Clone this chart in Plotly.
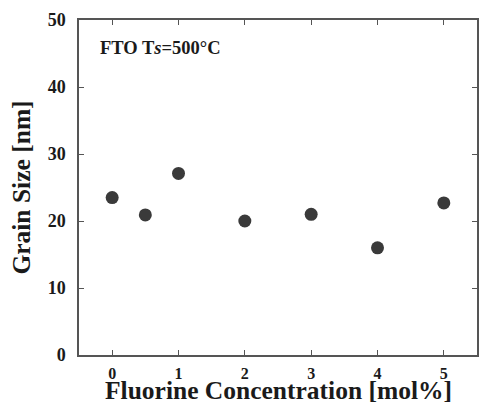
import plotly.graph_objects as go

fluorine_mol = [0, 0.5, 1, 2, 3, 4, 5]
grain_size_nm = [23.5, 20.9, 27.1, 20.0, 21.0, 16.0, 22.7]
x_ticks = [0, 1, 2, 3, 4, 5]
y_ticks = [0, 10, 20, 30, 40, 50]

FONT = "Liberation Serif"
AX = "#555555"

fig = go.Figure()
fig.add_trace(go.Scatter(
    x=fluorine_mol, y=grain_size_nm, mode="markers",
    marker=dict(size=13, color="#3a3a3a", line=dict(width=0)),
    showlegend=False,
))

fig.update_layout(
    width=479, height=406,
    margin=dict(l=79, r=0, t=20, b=51),
    paper_bgcolor="white", plot_bgcolor="white",
    font=dict(family=FONT, color="#1a1a1a"),
    xaxis=dict(
        range=[-0.5, 5.5], tickvals=x_ticks, ticktext=[str(v) for v in x_ticks],
        showline=True, linecolor=AX, linewidth=1.5, mirror="ticks",
        ticks="inside", ticklen=5, tickcolor=AX, tickwidth=1,
        showgrid=False, zeroline=False, ticklabelstandoff=3,
        tickfont=dict(family=FONT, size=16, color="#1a1a1a", weight="bold"),
    ),
    yaxis=dict(
        range=[0, 50], tickvals=y_ticks, ticktext=[str(v) for v in y_ticks],
        showline=True, linecolor=AX, linewidth=1.5, mirror="ticks",
        ticks="inside", ticklen=5, tickcolor=AX, tickwidth=1,
        showgrid=False, zeroline=False, ticklabelstandoff=8,
        tickfont=dict(family=FONT, size=18, color="#1a1a1a", weight="bold"),
        title=dict(text="<b>Grain Size [nm]</b>",
                   font=dict(family=FONT, size=25.5, color="#1a1a1a"), standoff=10),
    ),
    annotations=[
        dict(
            x=-0.21, y=45.8, xref="x", yref="y", xanchor="left", yanchor="middle",
            text="<b>FTO T<i>s</i>=500°C</b>", showarrow=False,
            font=dict(family=FONT, size=18.5, color="#1a1a1a"),
        ),
        dict(
            x=0.5, y=0, xref="paper", yref="paper", xanchor="center", yanchor="bottom",
            yshift=-52, text="<b>Fluorine Concentration [mol%]</b>", showarrow=False,
            font=dict(family=FONT, size=25.5, color="#1a1a1a"),
        ),
    ],
)

fig.write_html("out.html")
